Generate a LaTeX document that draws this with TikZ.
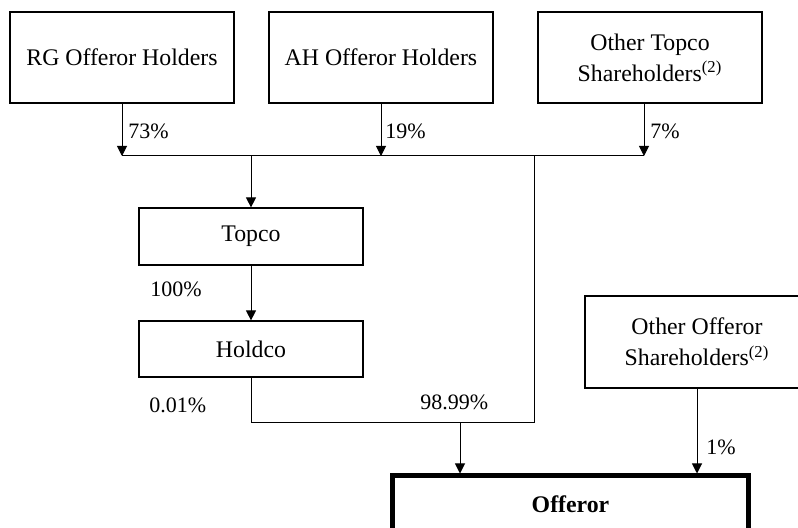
\documentclass[tikz,border=0pt]{standalone}
\usepackage{fontspec}
\setmainfont{Liberation Serif}
\usetikzlibrary{arrows.meta}

\tikzset{
  box/.style={draw, line width=0.6pt, minimum width=112pt, align=center, inner sep=0pt,
    font=\fontsize{11.9}{15.5}\selectfont},
  own/.style={-{Triangle[width=5pt,length=5pt]}, line width=0.5pt},
  pct/.style={anchor=west, inner sep=0pt, font=\fontsize{11}{13}\selectfont},
}

\begin{document}
\begin{tikzpicture}[x=0.5pt,y=-0.5pt]
	\useasboundingbox (0,0) rectangle (798,528);
	
	\node[box, minimum height=45.5pt] (rg) at (122,57.5) {RG Offeror Holders};
	\node[box, minimum height=45.5pt] (ah) at (381,57.5) {AH Offeror Holders};
	\node[box, minimum height=45.5pt] (otop) at (650,57.5) {Other Topco\\Shareholders\textsuperscript{(2)}};
	\node[box, minimum height=28.5pt] (topco) at (251,236.5) {Topco};
	\node[box, minimum height=28pt] (holdco) at (251,349) {Holdco};
	\node[box, minimum height=46pt] (ooff) at (697,342) {Other Offeror\\Shareholders\textsuperscript{(2)}};
	\node[box, line width=2.5pt, minimum width=178pt, minimum height=28pt,
	  font=\fontsize{11.9}{15.5}\selectfont\bfseries] (offeror) at (570.5,504) {Offeror};
	
	\coordinate (bar) at (0,156);
	\coordinate (low) at (0,423);
	\coordinate (jr) at (534,156);
	\coordinate (jo) at (460,423);
	\coordinate (ot) at ([xshift=-3pt]otop.south);
	
	\draw[own] (rg.south) -- (rg.south |- bar);
	\draw[own] (ah.south) -- (ah.south |- bar);
	\draw[own] (ot) -- (ot |- bar);
	\draw[line width=0.5pt] (rg.south |- bar) -- (ot |- bar);
	\draw[own] (topco.north |- bar) -- (topco.north);
	\draw[own] (topco.south) -- (holdco.north);
	\draw[line width=0.5pt] (jr) -- (jr |- low) -- (holdco.south |- low) -- (holdco.south);
	\draw[own] (jo) -- (jo |- offeror.north);
	\draw[own] (ooff.south) -- (ooff.south |- offeror.north);
	
	\node[pct] (p73) at (128,131) {73\%};
	\node[pct] (p19) at (385,131) {19\%};
	\node[pct] (p7) at (650,131) {7\%};
	\node[pct] (p100) at (150,289) {100\%};
	\node[pct] (p001) at (149,405) {0.01\%};
	\node[pct] (p9899) at (420,402) {98.99\%};
	\node[pct] (p1) at (706,447) {1\%};
\end{tikzpicture}
\end{document}
